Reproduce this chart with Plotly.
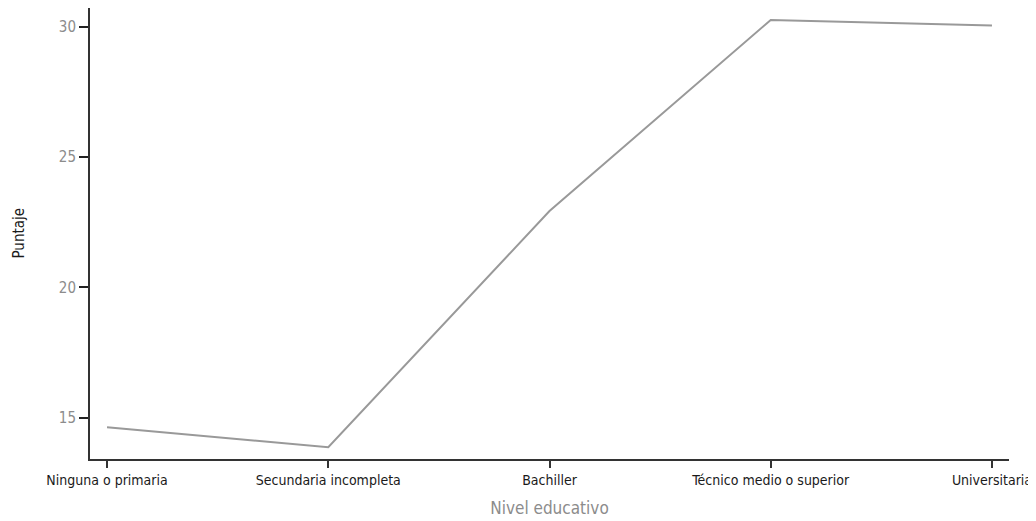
import plotly.graph_objects as go

categories = ["Ninguna o primaria", "Secundaria incompleta", "Bachiller",
              "Técnico medio o superior", "Universitaria"]
puntaje = [14.64, 13.87, 22.93, 30.26, 30.05]
y_ticks = [15, 20, 25, 30]

FONT = "DejaVu Sans Condensed, Liberation Sans Narrow, sans-serif"

fig = go.Figure()
fig.add_trace(go.Scatter(
    x=list(range(len(categories))), y=puntaje, mode="lines",
    line=dict(color="#999999", width=2), hoverinfo="skip", showlegend=False))

fig.update_layout(
    width=1036, height=513,
    margin=dict(l=82, r=35, t=0, b=62),
    paper_bgcolor="white", plot_bgcolor="white",
    font=dict(family=FONT, size=14, color="#222222"),
    xaxis=dict(
        range=[-0.077, 4.077], tickmode="array",
        tickvals=list(range(len(categories))), ticktext=categories,
        showline=True, linecolor="#333333", linewidth=2,
        ticks="outside", ticklen=7, tickwidth=1.5, tickcolor="#333333",
        showgrid=False, zeroline=False, automargin=False,
        tickfont=dict(family=FONT, size=14, color="#1a1a1a"),
        title=dict(text="Nivel educativo",
                   font=dict(family=FONT, size=17, color="#8c8c8c")),
    ),
    yaxis=dict(
        range=[13.42, 30.72], tickmode="array", tickvals=y_ticks,
        showline=True, linecolor="#333333", linewidth=2,
        ticks="outside", ticklen=9, tickwidth=2, tickcolor="#222222",
        showgrid=False, zeroline=False, automargin=False,
        tickfont=dict(family=FONT, size=15, color="#8c8c8c"),
    ),
    annotations=[dict(
        text="Puntaje", textangle=-90, xref="paper", yref="paper",
        x=-0.0783, y=0.5, xanchor="center", yanchor="middle", showarrow=False,
        font=dict(family=FONT, size=15, color="#1a1a1a"))],
)

fig.write_html("out.html")
